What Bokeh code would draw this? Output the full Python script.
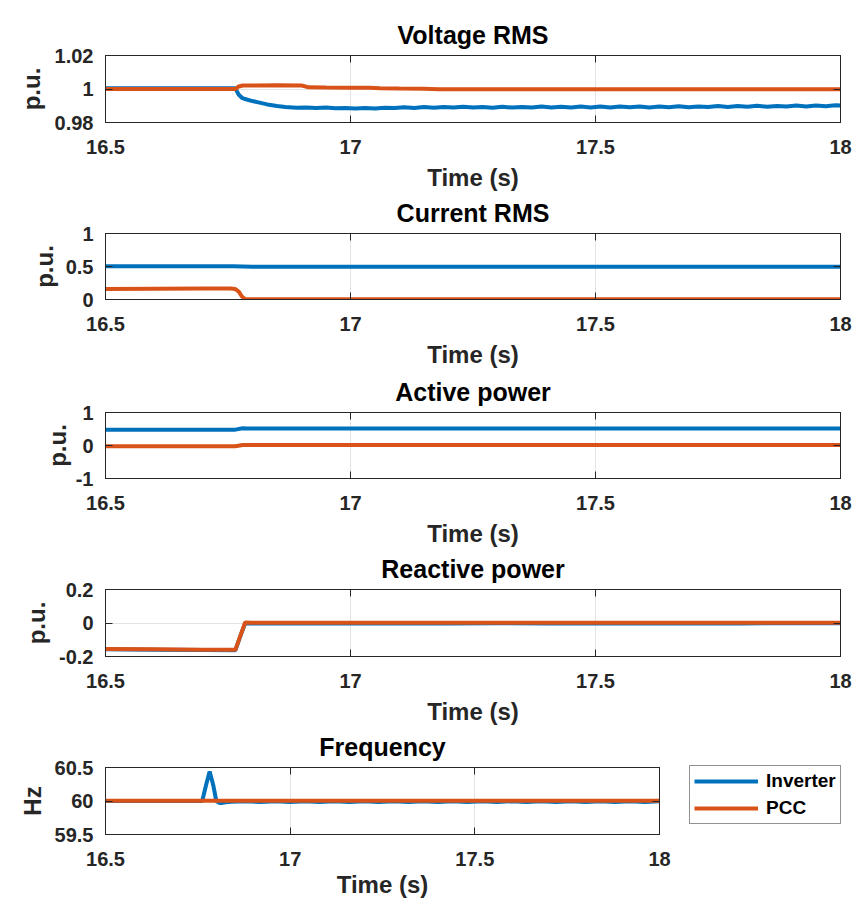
from bokeh.plotting import figure
from bokeh.models import Range1d, FixedTicker, LinearAxis, Legend, LegendItem
from bokeh.layouts import column, row
from bokeh.embed import file_html
from bokeh.resources import INLINE

# ---------------- data ----------------
x_ticks = [16.5, 17, 17.5, 18]
x_tick_labels = ["16.5", "17", "17.5", "18"]

# Voltage RMS
t_v_inv = [16.50, 16.60, 16.70, 16.765, 16.772, 16.779, 16.79, 16.80, 16.812, 16.83,
           16.85, 16.867, 16.89, 16.91, 16.93, 16.95, 16.97, 16.99,
           17.01, 17.03, 17.05, 17.07, 17.09, 17.11, 17.13, 17.15, 17.17, 17.19,
           17.21, 17.23, 17.25, 17.27, 17.29, 17.31, 17.33, 17.35, 17.37, 17.39,
           17.41, 17.43, 17.45, 17.47, 17.49, 17.51, 17.53, 17.55, 17.57, 17.59,
           17.61, 17.63, 17.65, 17.67, 17.69, 17.71, 17.73, 17.75, 17.77, 17.79,
           17.81, 17.83, 17.85, 17.87, 17.89, 17.91, 17.93, 17.95, 17.97, 17.99,
           18.00]
v_inv = [1.0005, 1.0005, 1.0004, 1.0004, 0.9966, 0.9946, 0.9936, 0.9928, 0.9920, 0.9908,
         0.9899, 0.9893, 0.9888, 0.9890, 0.9886, 0.9889, 0.9885, 0.9887,
         0.9884, 0.9887, 0.9884, 0.9888, 0.9886, 0.9891, 0.9887, 0.9892, 0.9888, 0.9893,
         0.9889, 0.9894, 0.9889, 0.9893, 0.9888, 0.9894, 0.9889, 0.9893, 0.9889, 0.9895,
         0.9890, 0.9894, 0.9889, 0.9895, 0.9890, 0.9896, 0.9890, 0.9895, 0.9891, 0.9896,
         0.9890, 0.9895, 0.9891, 0.9897, 0.9891, 0.9896, 0.9892, 0.9898, 0.9893, 0.9898,
         0.9894, 0.9900, 0.9894, 0.9899, 0.9895, 0.9901, 0.9896, 0.9901, 0.9897, 0.9903,
         0.9901]
t_v_pcc = [16.50, 16.65, 16.765, 16.772, 16.78, 16.85, 16.90, 16.915, 16.95, 17.00,
           17.04, 17.06, 17.10, 17.15, 17.18, 17.50, 18.00]
v_pcc = [1.0000, 1.0000, 1.0000, 1.0015, 1.0021, 1.0022, 1.0021, 1.0010, 1.0009, 1.0008,
         1.0007, 1.0004, 1.0003, 1.0002, 0.9999, 0.9999, 0.9999]

# Current RMS
t_i_inv = [16.50, 16.60, 16.70, 16.76, 16.80, 17.00, 17.50, 18.00]
i_inv = [0.505, 0.505, 0.505, 0.505, 0.495, 0.495, 0.495, 0.495]
t_i_pcc = [16.50, 16.60, 16.70, 16.755, 16.765, 16.772, 16.778, 16.785, 16.80, 17.00, 17.50, 18.00]
i_pcc = [0.160, 0.163, 0.165, 0.165, 0.158, 0.120, 0.050, 0.005, 0.003, 0.003, 0.003, 0.003]

# Active power
t_p_inv = [16.50, 16.60, 16.70, 16.765, 16.78, 16.79, 16.80, 17.00, 17.50, 18.00]
p_inv = [0.480, 0.480, 0.480, 0.480, 0.525, 0.515, 0.515, 0.515, 0.515, 0.515]
t_p_pcc = [16.50, 16.60, 16.70, 16.765, 16.78, 16.80, 17.00, 17.50, 18.00]
p_pcc = [-0.020, -0.020, -0.020, -0.020, 0.015, 0.015, 0.015, 0.015, 0.015]

# Reactive power
t_q_inv = [16.50, 16.60, 16.70, 16.765, 16.775, 16.785, 16.80, 16.90, 17.00, 17.10,
           17.20, 17.30, 17.40, 17.50, 17.60, 17.70, 17.80, 17.90, 18.00]
q_inv = [-0.157, -0.159, -0.161, -0.163, -0.080, -0.002, -0.003, -0.001, -0.003, -0.001,
         -0.003, -0.001, -0.003, -0.001, -0.003, -0.001, -0.003, -0.001, -0.002]
t_q_pcc = [16.50, 16.60, 16.70, 16.765, 16.775, 16.785, 16.80, 17.00, 17.50, 18.00]
q_pcc = [-0.155, -0.157, -0.159, -0.160, -0.078, 0.003, 0.002, 0.002, 0.002, 0.002]

# Frequency
t_f_inv = [16.50, 16.60, 16.70, 16.762, 16.772, 16.782, 16.792, 16.800, 16.807, 16.813,
           16.825, 16.84, 16.88, 16.92, 16.96, 17.00, 17.04, 17.08, 17.12, 17.16,
           17.20, 17.24, 17.28, 17.32, 17.36, 17.40, 17.44, 17.48, 17.52, 17.56,
           17.60, 17.64, 17.68, 17.72, 17.76, 17.80, 17.84, 17.88, 17.92, 17.96,
           18.00]
f_inv = [60.000, 60.000, 60.000, 60.000, 60.230, 60.440, 60.230, 60.000, 59.975, 59.968,
         59.982, 59.988, 59.996, 59.986, 59.996, 59.986, 59.996, 59.986, 59.996, 59.986,
         59.996, 59.986, 59.996, 59.986, 59.996, 59.986, 59.996, 59.986, 59.996, 59.986,
         59.996, 59.986, 59.996, 59.986, 59.996, 59.986, 59.996, 59.986, 59.996, 59.986,
         59.996]
t_f_pcc = [16.50, 17.00, 17.50, 18.00]
f_pcc = [60.003, 60.003, 60.003, 60.003]

series_names = ["Inverter", "PCC"]

# ---------------- style / layout ----------------
FONT = "Liberation Sans"
DARK = "#262626"
BLUE = "#0072BD"
ORANGE = "#D95319"
GRID = "#e3e3e3"
LW = 4

TOP = 50          # generous top border (title)
BOT = 85          # generous bottom border (tick labels + axis label)
FRAME_TOPS = [55, 233, 412, 589, 767]   # where each plot box starts on the page
FRAME_HS = [67, 66, 66, 67, 67]


def box_axis(ticks):
    # axis with only inward tick marks (no labels) for the top / right edges
    return LinearAxis(ticker=FixedTicker(ticks=[], minor_ticks=ticks),
                      major_label_standoff=0, major_tick_in=0, major_tick_out=0,
                      minor_tick_in=7, minor_tick_out=0,
                      minor_tick_line_color=DARK, major_tick_line_color=None,
                      axis_line_color=DARK)


def panel(title, ylabel, yr, yticks, ylabels, frame_w, frame_h, top, bottom, right,
          xlab_standoff, ylab_standoff):
    p = figure(width=105 + frame_w + right, height=top + frame_h + bottom,
               frame_width=frame_w, frame_height=frame_h,
               x_range=Range1d(16.5, 18), y_range=Range1d(yr[0], yr[1]),
               output_backend="svg", toolbar_location=None,
               min_border_left=105, min_border_right=right,
               min_border_top=top, min_border_bottom=bottom,
               background_fill_color="white", border_fill_color=None,
               outline_line_color=DARK, outline_line_width=1)
    p.title.text = title
    p.title.align = "center"
    p.title.text_font = FONT
    p.title.text_font_size = "25px"
    p.title.text_font_style = "bold"
    p.title.text_color = "black"
    p.title.standoff = 13

    xt = FixedTicker(ticks=x_ticks)
    yt = FixedTicker(ticks=yticks)
    xa = p.xaxis[0]
    ya = p.yaxis[0]
    xa.ticker = xt
    ya.ticker = yt
    p.xgrid[0].ticker = xt
    p.ygrid[0].ticker = yt
    for g in (p.xgrid[0], p.ygrid[0]):
        g.grid_line_color = GRID
        g.grid_line_width = 1

    xa.major_label_overrides = {k: v for k, v in zip(x_ticks, x_tick_labels)}
    ya.major_label_overrides = {k: v for k, v in zip(yticks, ylabels)}
    xa.axis_label = "Time (s)"
    ya.axis_label = ylabel
    for ax in (xa, ya):
        ax.major_label_text_font = FONT
        ax.major_label_text_font_size = "20px"
        ax.major_label_text_font_style = "bold"
        ax.major_label_text_color = DARK
        ax.axis_label_text_font = FONT
        ax.axis_label_text_font_size = "24px"
        ax.axis_label_text_font_style = "bold"
        ax.axis_label_text_color = DARK
        ax.major_tick_in = 7
        ax.major_tick_out = 0
        ax.minor_tick_line_color = None
        ax.axis_line_color = DARK
        ax.major_tick_line_color = DARK
    xa.major_label_standoff = 17
    xa.axis_label_standoff = xlab_standoff
    ya.major_label_standoff = 12
    ya.axis_label_standoff = ylab_standoff

    p.add_layout(box_axis(x_ticks), "above")
    p.add_layout(box_axis(yticks), "right")
    return p


def add_lines(p, t1, y1, t2, y2):
    r1 = p.line(t1, y1, line_color=BLUE, line_width=LW)
    r2 = p.line(t2, y2, line_color=ORANGE, line_width=LW)
    return r1, r2


P5_BOT, P5_RIGHT = 70, 20
tops = [FRAME_TOPS[0], TOP, TOP, TOP, TOP]
bots = [BOT, BOT, BOT, BOT, P5_BOT]

p1 = panel("Voltage RMS", "p.u.", (0.98, 1.02), [0.98, 1, 1.02], ["0.98", "1", "1.02"],
           735, FRAME_HS[0], tops[0], bots[0], 16, 7, 7)
add_lines(p1, t_v_inv, v_inv, t_v_pcc, v_pcc)

p2 = panel("Current RMS", "p.u.", (0, 1), [0, 0.5, 1], ["0", "0.5", "1"],
           735, FRAME_HS[1], tops[1], bots[1], 16, 7, 5)
add_lines(p2, t_i_inv, i_inv, t_i_pcc, i_pcc)

p3 = panel("Active power", "p.u.", (-1, 1), [-1, 0, 1], ["-1", "0", "1"],
           735, FRAME_HS[2], tops[2], bots[2], 16, 7, 2)
add_lines(p3, t_p_inv, p_inv, t_p_pcc, p_pcc)

p4 = panel("Reactive power", "p.u.", (-0.2, 0.2), [-0.2, 0, 0.2], ["-0.2", "0", "0.2"],
           735, FRAME_HS[3], tops[3], bots[3], 16, 7, 6)
add_lines(p4, t_q_inv, q_inv, t_q_pcc, q_pcc)

p5 = panel("Frequency", "Hz", (59.5, 60.5), [59.5, 60, 60.5], ["59.5", "60", "60.5"],
           554, FRAME_HS[4], tops[4], bots[4], P5_RIGHT, 2, 6)
add_lines(p5, t_f_inv, f_inv, t_f_pcc, f_pcc)

# legend panel to the right of the frequency plot
LEG_W = 856 - (105 + 554 + P5_RIGHT)
LEG_H = tops[4] + FRAME_HS[4] + bots[4]
pl = figure(width=LEG_W, height=LEG_H, frame_width=LEG_W, frame_height=LEG_H,
            x_range=Range1d(0, 1), y_range=Range1d(0, 1),
            output_backend="svg", toolbar_location=None,
            min_border=0, outline_line_color=None,
            background_fill_color=None, border_fill_color=None)
pl.axis.visible = False
pl.grid.visible = False
# legend proxies (kept outside the visible range)
k_inv = pl.line([-2, -1], [-2, -2], line_color=BLUE, line_width=LW)
k_pcc = pl.line([-2, -1], [-3, -3], line_color=ORANGE, line_width=LW)
legend = Legend(items=[LegendItem(label=series_names[0], renderers=[k_inv]),
                       LegendItem(label=series_names[1], renderers=[k_pcc])],
                location=(689 - (105 + 554 + P5_RIGHT), bots[4] + 10), margin=0,
                padding=4, spacing=5,
                glyph_width=64, glyph_height=22, label_height=22, label_standoff=8,
                label_text_font=FONT, label_text_font_size="19px",
                label_text_font_style="bold", label_text_color="black",
                border_line_color=DARK, border_line_width=1,
                background_fill_color="white", background_fill_alpha=1)
pl.add_layout(legend, "center")

last = row(p5, pl, spacing=0)
figs = [p1, p2, p3, p4, last]
# overlap the empty border areas of neighbouring panels so every plot box sits where it should
prev_bottom = tops[0] + FRAME_HS[0] + bots[0]
for i in range(1, 5):
    want_top = FRAME_TOPS[i] - tops[i]
    shift = want_top - prev_bottom
    extra_bottom = 0
    if i == 4:
        extra_bottom = 901 - (FRAME_TOPS[4] + FRAME_HS[4] + bots[4])
    figs[i].margin = (shift, 0, extra_bottom, 0)
    prev_bottom = want_top + tops[i] + FRAME_HS[i] + bots[i]

layout = column(*figs, spacing=0)

with open("out.html", "w") as f:
    f.write(file_html(layout, INLINE))
